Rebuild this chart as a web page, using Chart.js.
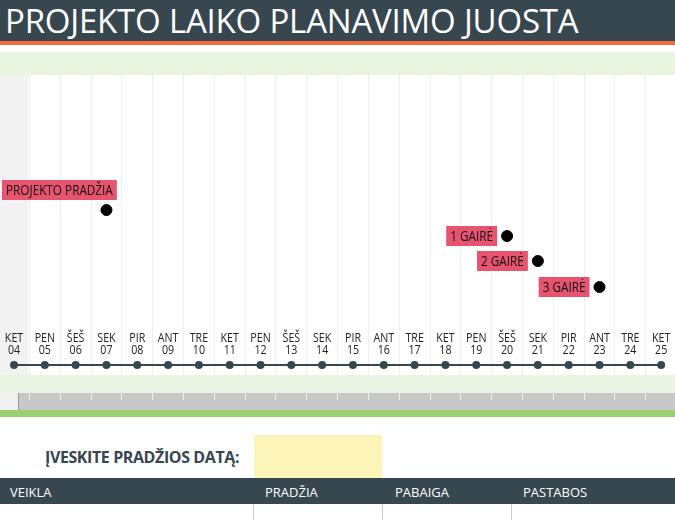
<!DOCTYPE html>
<html><head><meta charset="utf-8">
<script src="https://cdn.jsdelivr.net/npm/chart.js@4/dist/chart.umd.min.js"></script>
<style>
body{margin:0;width:675px;height:520px;overflow:hidden;background:#fff;font-family:"Open Sans",sans-serif;position:relative}
.a{position:absolute;white-space:nowrap}
</style></head><body>
<div class="a" style="left:0;top:0;width:675px;height:41px;background:#37474f"></div>
<div class="a" style="left:0;top:41px;width:675px;height:4px;background:#f26b3a"></div>
<div class="a" style="left:5px;top:1px;color:#fff;font-size:33px;font-family:'Open Sans';letter-spacing:-0.2px;line-height:40px">PROJEKTO LAIKO PLANAVIMO JUOSTA</div>
<div class="a" style="left:0;top:52px;width:675px;height:23px;background:#eaf5e1"></div>
<div class="a" style="left:0;top:75px;width:28px;height:300px;background:#f2f2f2"></div>
<div class="a" style="left:0;top:375px;width:675px;height:18px;background:#eaf5e1"></div>
<div class="a" style="left:0;top:393px;width:675px;height:17px;background:#c8c8c8"></div>
<div class="a" style="left:0;top:393px;width:18px;height:17px;background:#f0f0f0;border-right:1px solid #999"></div>
<div class="a" style="left:0;top:410px;width:675px;height:7px;background:#9ccf6e"></div>
<div class="a" style="left:0;top:52px;width:675px;height:348px"><canvas id="c" width="675" height="348"></canvas></div>
<div class="a" style="left:45px;top:446px;font-size:16px;font-weight:bold;color:#37474f;letter-spacing:-0.4px">ĮVESKITE PRADŽIOS DATĄ:</div>
<div class="a" style="left:254px;top:435px;width:128px;height:43px;background:#fdf5b8"></div>
<div class="a" style="left:0;top:478px;width:675px;height:26px;background:#37474f"></div>
<div class="a" style="left:10px;top:483px;color:#fff;font-size:13px">VEIKLA</div>
<div class="a" style="left:265px;top:483px;color:#fff;font-size:13px">PRADŽIA</div>
<div class="a" style="left:395px;top:483px;color:#fff;font-size:13px">PABAIGA</div>
<div class="a" style="left:523px;top:483px;color:#fff;font-size:13px">PASTABOS</div>
<div class="a" style="left:253px;top:504px;width:1px;height:16px;background:#ccc"></div>
<div class="a" style="left:382px;top:504px;width:1px;height:16px;background:#ccc"></div>
<div class="a" style="left:511px;top:504px;width:1px;height:16px;background:#ccc"></div>
<script>
const days=[4,5,6,7,8,9,10,11,12,13,14,15,16,17,18,19,20,21,22,23,24,25];
const dayNames=["KET","PEN","ŠEŠ","SEK","PIR","ANT","TRE","KET","PEN","ŠEŠ","SEK","PIR","ANT","TRE","KET","PEN","ŠEŠ","SEK","PIR","ANT","TRE","KET"];
const dayNums=["04","05","06","07","08","09","10","11","12","13","14","15","16","17","18","19","20","21","22","23","24","25"];
const msLabels=["PROJEKTO PRADŽIA","1 GAIRĖ","2 GAIRĖ","3 GAIRĖ"];
const msDays=[7,20,21,23];
const msHeights=[155,129,104,78];
const labelPlugin={id:'lab',afterDatasetsDraw(ch){
 const c=ch.ctx,x=ch.scales.x,y=ch.scales.y;
 c.save();c.textBaseline='middle';
 c.fillStyle='#222';c.textAlign='center';c.font='13px "Open Sans"';
 days.forEach((d,i)=>{const px=x.getPixelForValue(d);
  c.save();c.translate(px,0);c.scale(0.82,1);
  c.fillText(dayNames[i],0,y.getPixelForValue(27));c.fillText(dayNums[i],0,y.getPixelForValue(15));c.restore();});
 c.font='14px "Open Sans"';
 msLabels.forEach((t,i)=>{
  const px=x.getPixelForValue(msDays[i]),py=y.getPixelForValue(msHeights[i]);
  const tw=c.measureText(t).width*0.84;const w=tw+8;
  let lx,ly;
  if(i===0){lx=2;ly=y.getPixelForValue(175);}else{lx=px-10-w;ly=py;}
  c.fillStyle='#e8536f';c.fillRect(lx,ly-10,w,20);
  c.fillStyle='#111';c.textAlign='left';
  c.save();c.translate(lx+4,ly+1);c.scale(0.84,1);c.fillText(t,0,0);c.restore();
 });
 c.restore();}};
new Chart(document.getElementById('c'),{
 type:'scatter',
 data:{datasets:[
  {data:days.map(d=>({x:d,y:0})),showLine:true,borderColor:'#37474f',borderWidth:2,pointRadius:3,pointBackgroundColor:'#37474f',pointBorderColor:'#37474f'},
  {data:msDays.map((d,i)=>({x:d,y:msHeights[i]})),pointRadius:5.5,pointBackgroundColor:'#000',pointBorderColor:'#000'}
 ]},
 options:{responsive:false,animation:false,layout:{padding:0,autoPadding:false},
  plugins:{legend:{display:false},tooltip:{enabled:false}},
  scales:{
   x:{type:'linear',min:3.545,max:25.45,display:true,border:{display:false},ticks:{display:false},
      afterBuildTicks(s){s.ticks=days.map(d=>({value:d+0.5}));},
      grid:{color:'#eeeeee',lineWidth:1,drawTicks:false}},
   y:{min:-35,max:313,display:false}
  }},
 plugins:[labelPlugin]});
</script>
</body></html>
